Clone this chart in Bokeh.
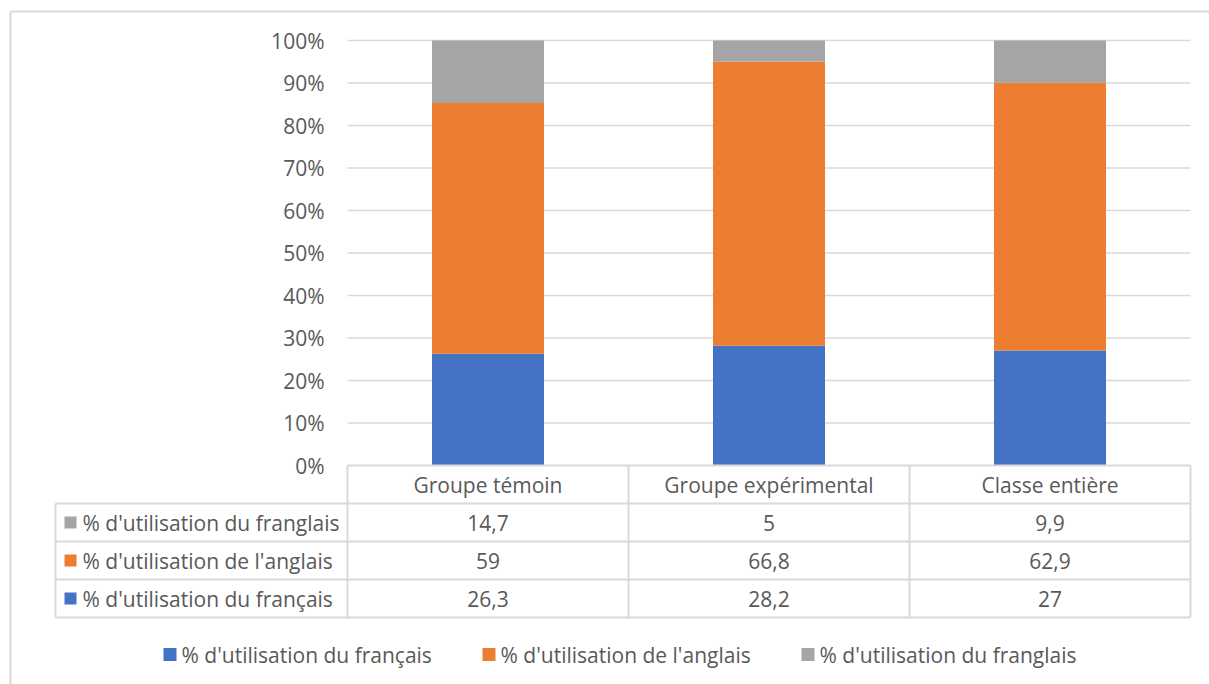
from bokeh.plotting import figure
from bokeh.models import Range1d
from bokeh.core.properties import value
from bokeh.embed import file_html
from bokeh.resources import INLINE

# ---- data ----
categories = ["Groupe témoin", "Groupe expérimental", "Classe entière"]
series_names = ["% d'utilisation du français", "% d'utilisation de l'anglais", "% d'utilisation du franglais"]
francais = [26.3, 28.2, 27]
anglais = [59, 66.8, 62.9]
franglais = [14.7, 5, 9.9]
y_ticks = [0, 10, 20, 30, 40, 50, 60, 70, 80, 90, 100]
y_tick_labels = [f"{t}%" for t in y_ticks]

colors = ["#4472C4", "#ED7D31", "#A5A5A5"]
TXT = "#595959"
LINE = "#D9D9D9"
FONT = value("Open Sans")
FS = "21px"

W, H = 1209, 684
PX0, PX1 = 347, 1190     # plot area left/right (px)
PY_TOP, PY_BOT = 40, 465  # 100% / 0% (px)
u = (PX1 - PX0) / len(categories)
k = (PY_BOT - PY_TOP) / 100.0

def X(px):
    return (px - PX0) / u

def Y(py):
    return (PY_BOT - py) / k

p = figure(width=W, height=H, x_range=Range1d(X(0), X(W)), y_range=Range1d(Y(H), Y(0)),
           output_backend="svg", toolbar_location=None, min_border=0,
           x_axis_type=None, y_axis_type=None)
p.grid.visible = False
p.outline_line_color = None
p.background_fill_color = "white"
p.border_fill_color = "white"

# outer chart border
p.segment(x0=[X(10), X(10)], y0=[Y(11), Y(11)], x1=[X(W + 5), X(10)], y1=[Y(11), Y(H + 5)],
          line_color=LINE, line_width=2)

# gridlines
gl = [t for t in y_ticks if t > 0]
p.segment(x0=[0] * len(gl), y0=gl, x1=[len(categories)] * len(gl), y1=gl, line_color=LINE, line_width=1.5)

# y tick labels
p.text(x=[X(324)] * len(y_ticks), y=y_ticks, text=y_tick_labels, text_align="right", text_baseline="middle",
       text_font=FONT, text_font_size=FS, text_color=TXT)

# stacked bars (100 % stacked)
series = [francais, anglais, franglais]
totals = [sum(v) for v in zip(*series)]
xs = [i + 0.5 for i in range(len(categories))]
bottoms = [0.0] * len(categories)
for vals, col in zip(series, colors):
    pct = [v / t * 100 for v, t in zip(vals, totals)]
    tops = [b + q for b, q in zip(bottoms, pct)]
    p.vbar(x=xs, width=112 / u, bottom=bottoms, top=tops, fill_color=col, line_color=None)
    bottoms = tops

# data table
row_h = 38 / k
n = len(categories)
row_tops = [-row_h * (i + 1) for i in range(4)]
tl = X(55)
hx0 = [0] + [tl] * 4
hy = [0] + row_tops
p.segment(x0=hx0, y0=hy, x1=[n] * 5, y1=hy, line_color=LINE, line_width=2)
vx = [tl] + list(range(n + 1))
vy0 = [row_tops[0]] + [0] * (n + 1)
p.segment(x0=vx, y0=vy0, x1=vx, y1=[row_tops[-1]] * len(vx), line_color=LINE, line_width=2)

p.text(x=xs, y=[-row_h / 2] * n, text=categories, text_align="center", text_baseline="middle",
       text_font=FONT, text_font_size=FS, text_color=TXT)

def fmt(v):
    return f"{v:g}".replace(".", ",")

order = [2, 1, 0]  # franglais, anglais, français from top
for r, si in enumerate(order):
    yc = -row_h * (r + 1.5)
    p.text(x=xs, y=[yc] * n, text=[fmt(v) for v in series[si]], text_align="center", text_baseline="middle",
           text_font=FONT, text_font_size=FS, text_color=TXT)
    p.scatter(x=[X(70)], y=[yc], marker="square", size=12, fill_color=colors[si], line_color=None)
    p.text(x=[X(82)], y=[yc], text=[series_names[si]], text_align="left", text_baseline="middle",
           text_font=FONT, text_font_size=FS, text_color=TXT)

# bottom legend
leg_sq = [169.5, 488.5, 807.5]
leg_tx = [181, 500, 819]
ly = Y(654)
for i in range(3):
    p.scatter(x=[X(leg_sq[i])], y=[ly], marker="square", size=13, fill_color=colors[i], line_color=None)
    p.text(x=[X(leg_tx[i])], y=[ly], text=[series_names[i]], text_align="left", text_baseline="middle",
           text_font=FONT, text_font_size=FS, text_color=TXT)

open("out.html", "w").write(file_html(p, INLINE))
